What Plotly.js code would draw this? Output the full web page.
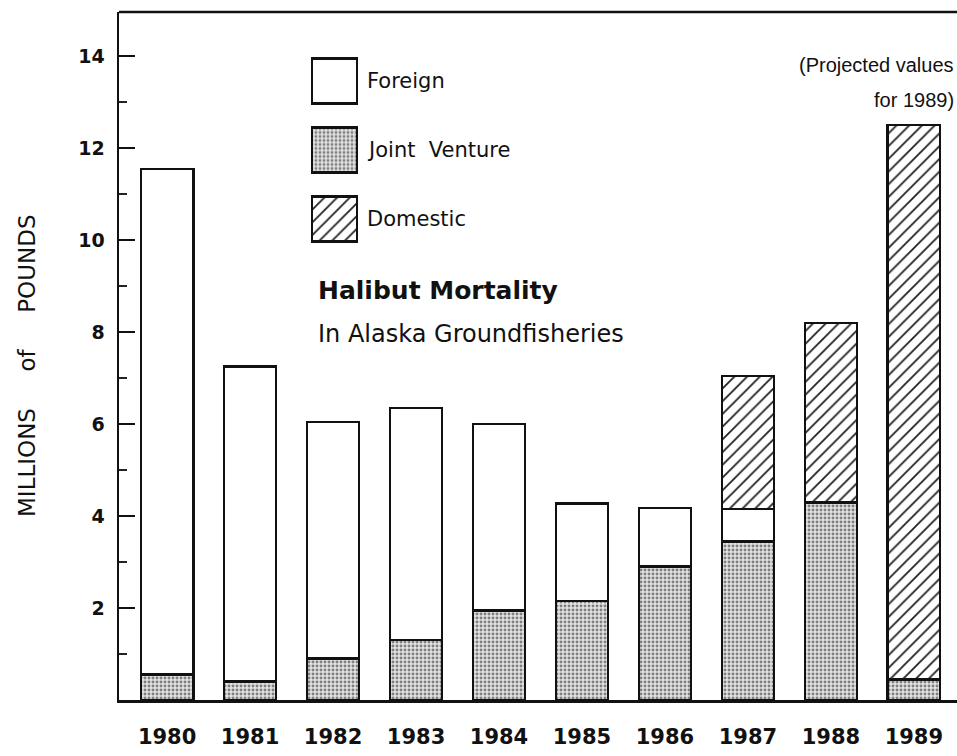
<!DOCTYPE html>
<html>
<head>
<meta charset="utf-8">
<script src="https://cdn.plot.ly/plotly-3.0.1.min.js"></script>
<style>html,body{margin:0;padding:0;background:#fff;}#chart{width:957px;height:756px;}</style>
</head>
<body>
<div id="chart"></div>
<script>
const years = ["1980","1981","1982","1983","1984","1985","1986","1987","1988","1989"];
const jointVenture = [0.55, 0.4, 0.9, 1.3, 1.95, 2.15, 2.9, 3.45, 4.3, 0.45];
const foreign = [11.0, 6.85, 5.15, 5.05, 4.05, 2.12, 1.28, 0.7, 0, 0];
const domestic = [0, 0, 0, 0, 0, 0, 0, 2.9, 3.9, 12.05];
const legendNames = ["Foreign", "Joint Venture", "Domestic"];
const yTicks = [2, 4, 6, 8, 10, 12, 14];

const FONT = "DejaVu Sans, Verdana, sans-serif";
const FONT2 = "Liberation Sans, Arial, Helvetica, sans-serif";
const L = 119, R = 957, T = 12, B = 700;
const px = v => (v - L) / (R - L);
const py = v => (B - v) / (B - T);
const NB = "\u00A0";

const outline = {color: "#111", width: 2.5};
const jvPattern = {shape: ".", bgcolor: "#e4e4e4", fgcolor: "#808080", size: 4, solidity: 0.42};
const domPattern = {shape: "/", bgcolor: "#ffffff", fgcolor: "#222", size: 9, solidity: 0.2};

const traces = [
  {type: "bar", x: years, y: jointVenture, width: 0.63, name: "Joint Venture",
   marker: {color: "#e4e4e4", pattern: jvPattern, line: outline}, showlegend: false, hoverinfo: "x+y"},
  {type: "bar", x: years, y: foreign, width: 0.63, name: "Foreign",
   marker: {color: "#ffffff", line: outline}, showlegend: false, hoverinfo: "x+y"},
  {type: "bar", x: years, y: domestic, width: 0.63, name: "Domestic",
   marker: {color: "#ffffff", pattern: domPattern, line: outline}, showlegend: false, hoverinfo: "x+y"},
  // legend swatches
  {type: "bar", orientation: "h", x: [1], y: [legendNames[0]], base: 0, width: 0.65,
   xaxis: "x2", yaxis: "y2", showlegend: false, hoverinfo: "skip",
   marker: {color: "#ffffff", line: outline}},
  {type: "bar", orientation: "h", x: [1], y: [legendNames[1]], base: 0, width: 0.65,
   xaxis: "x2", yaxis: "y2", showlegend: false, hoverinfo: "skip",
   marker: {color: "#e4e4e4", pattern: jvPattern, line: outline}},
  {type: "bar", orientation: "h", x: [1], y: [legendNames[2]], base: 0, width: 0.65,
   xaxis: "x2", yaxis: "y2", showlegend: false, hoverinfo: "skip",
   marker: {color: "#ffffff", pattern: domPattern, line: outline}}
];

const layout = {
  width: 957, height: 756,
  margin: {l: L, r: 957 - R, t: T, b: 756 - B},
  paper_bgcolor: "#fff", plot_bgcolor: "rgba(0,0,0,0)",
  barmode: "stack",
  font: {family: FONT, color: "#111", size: 18},
  xaxis: {type: "category", range: [-0.58, 9.52], showgrid: false, zeroline: false,
          showline: true, linecolor: "#111", linewidth: 2.5, ticks: "",
          tickfont: {size: 21, color: "#111", family: FONT, weight: "bold"}, ticklabelstandoff: 16, fixedrange: true},
  yaxis: {range: [0, 14.96], showgrid: false, zeroline: false, showline: true,
          linecolor: "#111", linewidth: 2.5, tickvals: yTicks, ticktext: yTicks.map(String),
          ticks: "inside", ticklen: 16, tickwidth: 2.5, tickcolor: "#111",
          minor: {dtick: 1, tick0: 0, ticks: "inside", ticklen: 8, tickwidth: 2, tickcolor: "#222"},
          tickfont: {size: 19, color: "#111", family: FONT, weight: "bold"}, ticklabelstandoff: 8, fixedrange: true},
  xaxis2: {domain: [px(310), px(359)], range: [-0.04, 1.04], visible: false, fixedrange: true},
  yaxis2: {domain: [py(253.5), py(46.5)], type: "category", range: [2.5, -0.5],
           visible: false, anchor: "x2", fixedrange: true},
  shapes: [
    {type: "line", xref: "paper", yref: "paper", x0: 0, x1: 1, y0: 1, y1: 1,
     line: {color: "#111", width: 2.5}}
  ],
  annotations: [
    {text: legendNames[0], xref: "paper", yref: "paper", x: px(365), y: py(81), xanchor: "left", yanchor: "middle", showarrow: false, font: {size: 21}},
    {text: "Joint" + NB + NB + "Venture", xref: "paper", yref: "paper", x: px(365), y: py(150.5), xanchor: "left", yanchor: "middle", showarrow: false, font: {size: 21}},
    {text: legendNames[2], xref: "paper", yref: "paper", x: px(365), y: py(219), xanchor: "left", yanchor: "middle", showarrow: false, font: {size: 21}},
    {text: "<b>Halibut Mortality</b>", xref: "paper", yref: "paper", x: px(316), y: py(290), xanchor: "left", yanchor: "middle", showarrow: false, font: {size: 25}},
    {text: "In Alaska Groundfisheries", xref: "paper", yref: "paper", x: px(316), y: py(334), xanchor: "left", yanchor: "middle", showarrow: false, font: {size: 24}},
    {text: "(Projected values", xref: "paper", yref: "paper", x: px(956), y: py(65), xanchor: "right", yanchor: "middle", showarrow: false, font: {size: 20, family: FONT2}},
    {text: "for 1989)", xref: "paper", yref: "paper", x: px(956), y: py(100), xanchor: "right", yanchor: "middle", showarrow: false, font: {size: 20, family: FONT2}},
    {text: "MILLIONS" + NB.repeat(5) + "of" + NB.repeat(5) + "POUNDS", xref: "paper", yref: "paper", x: px(27), y: py(366), xanchor: "center", yanchor: "middle", textangle: -90, showarrow: false, font: {size: 23}}
  ]
};

Plotly.newPlot("chart", traces, layout, {displayModeBar: false, staticPlot: true});
</script>
</body>
</html>
